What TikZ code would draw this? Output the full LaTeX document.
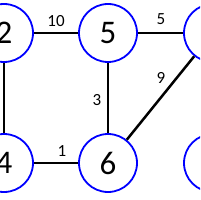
\documentclass[tikz,border=0pt]{standalone}
\usepackage{fontspec}
\setmainfont{Carlito}
\begin{document}
\begin{tikzpicture}[x=1pt,y=-1pt,
  vert/.style={circle,draw=blue,line width=1.8pt,minimum size=58pt,inner sep=0pt,font=\fontsize{33}{33}\selectfont},
  edge/.style={line width=2.5pt,black},
  wlab/.style={font=\fontsize{17}{17}\selectfont,inner sep=0pt}]
\useasboundingbox (0,0) rectangle (200,200);
\clip (0,0) rectangle (200,200);
\node[vert] (n2) at (4,33) {2};
\node[vert] (n5) at (108,33) {5};
\node[vert] (n7) at (213,33) {};
\node[vert] (n4) at (4,163) {4};
\node[vert] (n6) at (108,163) {6};
\node[vert] (n8) at (213,163) {};
\draw[edge] (n2) -- (n5);
\draw[edge] (n5) -- (n7);
\draw[edge] (n2) -- (n4);
\draw[edge] (n5) -- (n6);
\draw[edge] (n4) -- (n6);
\draw[edge] (n6) -- (n7);
\node[wlab] (l10) at (56,21) {10};
\node[wlab] (l5) at (161,19.5) {5};
\node[wlab] (l3) at (97,100) {3};
\node[wlab] (l1) at (62,151) {1};
\node[wlab] (l9) at (161,78) {9};
\end{tikzpicture}
\end{document}
